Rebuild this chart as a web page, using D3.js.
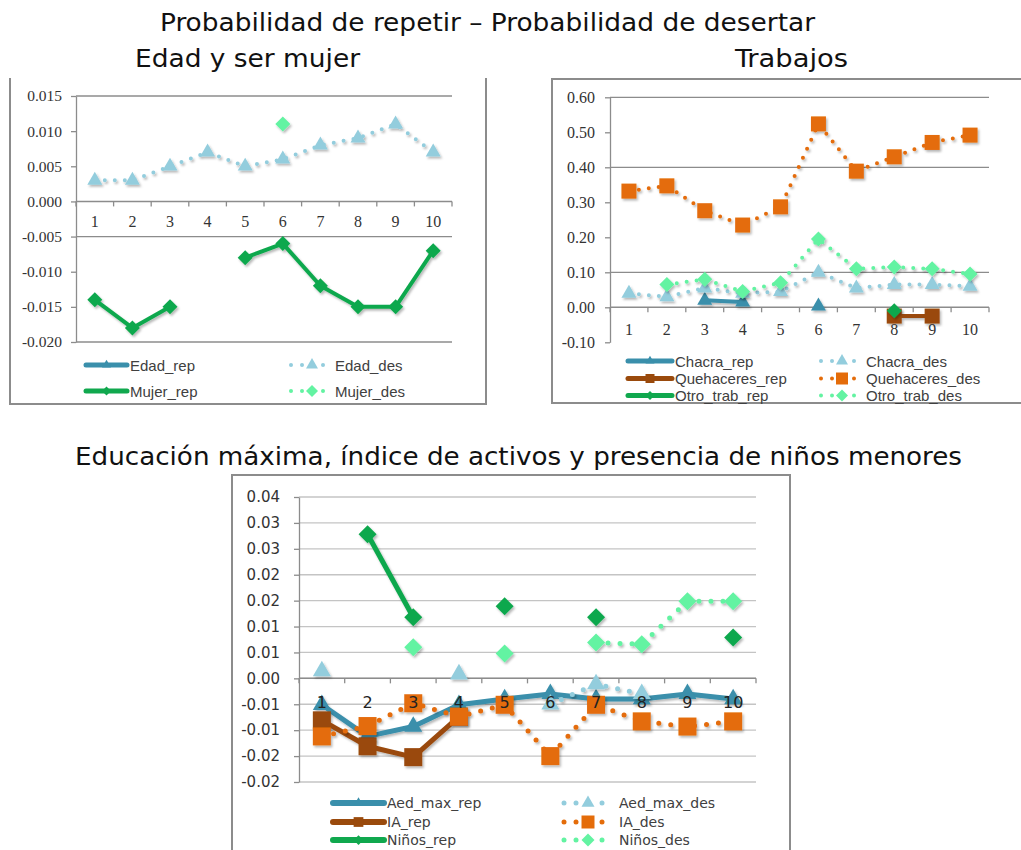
<!DOCTYPE html>
<html>
<head>
<meta charset="utf-8">
<script src="https://cdn.jsdelivr.net/npm/d3@7"></script>
<style>
  html, body { margin: 0; padding: 0; background: #fff; }
  svg { display: block; }
</style>
</head>
<body>
<svg id="chart" width="1021" height="850"></svg>
<script>
const categories = [1, 2, 3, 4, 5, 6, 7, 8, 9, 10];

// Edad y ser mujer
const edadRep = [null, null, null, null, null, null, null, null, null, null];
const edadDes = [0.003, 0.003, 0.005, 0.007, 0.005, 0.006, 0.008, 0.009, 0.011, 0.007];
const mujerRep = [-0.014, -0.018, -0.015, null, -0.008, -0.006, -0.012, -0.015, -0.015, -0.007];
const mujerDes = [null, null, null, null, null, 0.011, null, null, null, null];
const edadTicks = [0.015, 0.01, 0.005, 0, -0.005, -0.01, -0.015, -0.02];
const edadTickLabels = ["0.015", "0.010", "0.005", "0.000", "-0.005", "-0.010", "-0.015", "-0.020"];
const edadGrid = [0.015, -0.005, -0.02];

// Trabajos
const chacraRep = [null, null, 0.02, 0.015, null, 0.003, null, null, null, null];
const chacraDes = [0.04, 0.03, 0.055, 0.04, 0.045, 0.1, 0.055, 0.065, 0.065, 0.06];
const quehRep = [null, null, null, null, null, null, null, -0.025, -0.025, null];
const quehDes = [0.332, 0.347, 0.276, 0.235, 0.287, 0.524, 0.389, 0.43, 0.471, 0.492];
const otroRep = [null, null, null, null, null, null, null, -0.01, null, null];
const otroDes = [null, 0.065, 0.08, 0.045, 0.07, 0.195, 0.11, 0.115, 0.11, 0.095];
const trabTicks = [0.6, 0.5, 0.4, 0.3, 0.2, 0.1, 0, -0.1];
const trabTickLabels = ["0.60", "0.50", "0.40", "0.30", "0.20", "0.10", "0.00", "-0.10"];
const trabGrid = [0.6, 0.4, 0.1];

// Educación máxima, índice de activos, niños menores
const aedRep = [-0.0051, -0.0112, -0.0093, -0.0051, -0.004, -0.003, -0.004, -0.004, -0.003, -0.004];
const aedDes = [0.0014, null, null, 0.0008, null, -0.005, -0.0011, -0.003, null, null];
const iaRep = [-0.0081, -0.0131, -0.0152, -0.0074, null, null, null, null, null, null];
const iaDes = [-0.0112, -0.0092, -0.0048, -0.0074, -0.0051, -0.015, -0.0051, -0.0083, -0.0093, -0.0083];
const ninosRep = [null, 0.0278, 0.0118, null, 0.0139, null, 0.0118, null, null, 0.0079];
const ninosDes = [null, null, 0.006, null, 0.0048, null, 0.0069, 0.0066, 0.0149, 0.0149];
const eduTicks = [0.035, 0.03, 0.025, 0.02, 0.015, 0.01, 0.005, 0, -0.005, -0.01, -0.015, -0.02];
const eduTickLabels = ["0.04", "0.03", "0.03", "0.02", "0.02", "0.01", "0.01", "0.00", "-0.01", "-0.01", "-0.02", "-0.02"];
const eduGrid = eduTicks;

const colors = {
  teal: "#3a8fab",
  lightBlue: "#93cddd",
  green: "#10a84e",
  lightGreen: "#63f3a2",
  brown: "#9a4a0c",
  orange: "#e46c0a",
};

const svg = d3.select("#chart");

const defs = svg.append("defs");
defs.append("filter").attr("id", "shadow")
  .attr("x", "-20%").attr("y", "-20%").attr("width", "140%").attr("height", "140%")
  .append("feDropShadow")
  .attr("dx", 1.5).attr("dy", 2).attr("stdDeviation", 1.2)
  .attr("flood-color", "#000").attr("flood-opacity", 0.28);

const markerPath = (shape, size) => {
  if (shape === "triangle") return d3.symbol(d3.symbolTriangle, size * size * 0.433)();
  if (shape === "square") return d3.symbol(d3.symbolSquare, size * size)();
  const h = size / 2;
  return `M0,${-h}L${h},0L0,${h}L${-h},0Z`;
};

// titles
const titleFont = "'DejaVu Sans Condensed', 'DejaVu Sans', sans-serif";
[
  { text: "Probabilidad de repetir – Probabilidad de desertar", x: 160, y: 31, w: 655 },
  { text: "Edad y ser mujer", x: 135, y: 67, w: 225 },
  { text: "Trabajos", x: 735, y: 67, w: 113 },
  { text: "Educación máxima, índice de activos y presencia de niños menores", x: 75, y: 465, w: 887 },
].forEach((t) =>
  svg.append("text")
    .text(t.text)
    .attr("x", t.x)
    .attr("y", t.y)
    .attr("textLength", t.w)
    .attr("lengthAdjust", "spacingAndGlyphs")
    .attr("font-family", titleFont)
    .attr("font-size", 25)
    .attr("fill", "#111")
);

const makeChart = (cfg) => {
  const g = svg.append("g");

  // frame
  g.append("path")
    .attr("d", cfg.frame)
    .attr("fill", "none")
    .attr("stroke", "#8c8c8c")
    .attr("stroke-width", 2);

  const x = d3.scaleBand().domain(categories).range([cfg.left, cfg.right]);
  const y = d3.scaleLinear().domain(cfg.domain).range([cfg.bottom, cfg.top]);
  const cx = (i) => x(categories[i]) + x.bandwidth() / 2;

  // gridlines
  g.append("g")
    .selectAll("line")
    .data(cfg.grid)
    .join("line")
    .attr("x1", cfg.left)
    .attr("x2", cfg.right)
    .attr("y1", (d) => y(d))
    .attr("y2", (d) => y(d))
    .attr("stroke", cfg.gridColor)
    .attr("stroke-width", 1.3);

  // y axis
  const yAxis = d3.axisLeft(y)
    .tickValues(cfg.ticks)
    .tickFormat((d, i) => cfg.tickLabels[i])
    .tickSize(5)
    .tickSizeOuter(0)
    .tickPadding(cfg.tickPad);
  const ya = g.append("g").attr("transform", `translate(${cfg.left},0)`).call(yAxis);
  ya.attr("font-family", cfg.tickFont).attr("font-size", cfg.tickSize);
  ya.selectAll("text").attr("fill", "#333");
  ya.selectAll("line, path").attr("stroke", "#8c8c8c").attr("stroke-width", 1.3);

  // x axis at zero
  const y0 = y(0);
  g.append("line")
    .attr("x1", cfg.left).attr("x2", cfg.right)
    .attr("y1", y0).attr("y2", y0)
    .attr("stroke", "#8c8c8c").attr("stroke-width", 1.5);
  g.append("g")
    .selectAll("line")
    .data([...categories.map((c) => x(c)), cfg.right])
    .join("line")
    .attr("x1", (d) => d).attr("x2", (d) => d)
    .attr("y1", y0).attr("y2", y0 + 5)
    .attr("stroke", "#8c8c8c").attr("stroke-width", 1.3);

  // series
  cfg.series.forEach((s) => {
    const sg = g.append("g").attr("filter", "url(#shadow)");
    const pts = s.values.map((v, i) => ({ i, v }));
    const line = d3.line()
      .defined((d) => d.v !== null)
      .x((d) => cx(d.i))
      .y((d) => y(d.v));
    sg.append("path")
      .attr("d", line(pts))
      .attr("fill", "none")
      .attr("stroke", s.color)
      .attr("stroke-width", cfg.lineWidth)
      .attr("stroke-linecap", "round")
      .attr("stroke-linejoin", "round")
      .attr("stroke-dasharray", s.dotted ? `0 ${cfg.dotGap}` : null);
    sg.selectAll("path.m")
      .data(pts.filter((d) => d.v !== null))
      .join("path")
      .attr("class", "m")
      .attr("d", markerPath(s.shape, cfg.markerSize))
      .attr("transform", (d) => `translate(${cx(d.i)},${y(d.v)})`)
      .attr("fill", s.color);
  });

  // category labels
  g.append("g")
    .selectAll("text")
    .data(categories)
    .join("text")
    .text((d) => d)
    .attr("x", (d) => x(d) + x.bandwidth() / 2)
    .attr("y", y0 + cfg.labelOffset)
    .attr("text-anchor", "middle")
    .attr("dominant-baseline", "central")
    .attr("font-family", cfg.tickFont)
    .attr("font-size", cfg.labelSize)
    .attr("fill", cfg.labelColor);

  // legend
  const L = cfg.legend;
  cfg.series.forEach((s, k) => {
    const ry = L.rows[Math.floor(k / 2)];
    const lg = g.append("g");
    if (k % 2 === 0) {
      lg.append("line")
        .attr("x1", L.lineX[0]).attr("x2", L.lineX[1])
        .attr("y1", ry).attr("y2", ry)
        .attr("stroke", s.color).attr("stroke-width", cfg.lineWidth + 1)
        .attr("stroke-linecap", "round");
      lg.append("path")
        .attr("d", markerPath(s.shape, L.markerSize * 0.75))
        .attr("transform", `translate(${(L.lineX[0] + L.lineX[1]) / 2},${ry})`)
        .attr("fill", s.color);
      lg.append("text").text(s.name)
        .attr("x", L.textX[0]).attr("y", ry);
    } else {
      L.dotX.forEach((dx) =>
        lg.append("circle")
          .attr("cx", dx).attr("cy", ry).attr("r", cfg.lineWidth / 2)
          .attr("fill", s.color)
      );
      lg.append("path")
        .attr("d", markerPath(s.shape, L.markerSize))
        .attr("transform", `translate(${L.markX},${ry})`)
        .attr("fill", s.color);
      lg.append("text").text(s.name)
        .attr("x", L.textX[1]).attr("y", ry);
    }
    lg.selectAll("text")
      .attr("dominant-baseline", "central")
      .attr("font-family", L.font)
      .attr("font-size", L.fontSize)
      .attr("fill", "#404040");
  });
};

makeChart({
  frame: "M10,78V404H486V78",
  left: 76, right: 452, top: 96, bottom: 342,
  domain: [-0.02, 0.015],
  ticks: edadTicks, tickLabels: edadTickLabels, grid: edadGrid,
  gridColor: "#8c8c8c",
  tickFont: "'Liberation Serif', serif", tickSize: 15.5, tickPad: 9,
  labelOffset: 20, labelSize: 16, labelColor: "#333",
  lineWidth: 4, dotGap: 10, markerSize: 15,
  series: [
    { name: "Edad_rep", values: edadRep, color: colors.teal, shape: "triangle", dotted: false },
    { name: "Edad_des", values: edadDes, color: colors.lightBlue, shape: "triangle", dotted: true },
    { name: "Mujer_rep", values: mujerRep, color: colors.green, shape: "diamond", dotted: false },
    { name: "Mujer_des", values: mujerDes, color: colors.lightGreen, shape: "diamond", dotted: true },
  ],
  legend: {
    rows: [365, 391], lineX: [86, 127], textX: [130, 335],
    dotX: [291, 302, 323], markX: 312, markerSize: 12,
    font: "'Liberation Sans Narrow', 'Liberation Sans', sans-serif", fontSize: 15,
  },
});

makeChart({
  frame: "M1030,79H552V403H1030",
  left: 610, right: 989, top: 97.3, bottom: 342.3,
  domain: [-0.1, 0.6],
  ticks: trabTicks, tickLabels: trabTickLabels, grid: trabGrid,
  gridColor: "#8c8c8c",
  tickFont: "'Liberation Serif', serif", tickSize: 16, tickPad: 10,
  labelOffset: 22, labelSize: 16, labelColor: "#333",
  lineWidth: 4, dotGap: 10, markerSize: 15,
  series: [
    { name: "Chacra_rep", values: chacraRep, color: colors.teal, shape: "triangle", dotted: false },
    { name: "Chacra_des", values: chacraDes, color: colors.lightBlue, shape: "triangle", dotted: true },
    { name: "Quehaceres_rep", values: quehRep, color: colors.brown, shape: "square", dotted: false },
    { name: "Quehaceres_des", values: quehDes, color: colors.orange, shape: "square", dotted: true },
    { name: "Otro_trab_rep", values: otroRep, color: colors.green, shape: "diamond", dotted: false },
    { name: "Otro_trab_des", values: otroDes, color: colors.lightGreen, shape: "diamond", dotted: true },
  ],
  legend: {
    rows: [361, 378.5, 395.5], lineX: [628, 672], textX: [675, 866],
    dotX: [821, 832, 854], markX: 842, markerSize: 12,
    font: "'Liberation Sans Narrow', 'Liberation Sans', sans-serif", fontSize: 15,
  },
});

makeChart({
  frame: "M232,870V475H790V870",
  left: 299, right: 756, top: 497, bottom: 782,
  domain: [-0.02, 0.035],
  ticks: eduTicks, tickLabels: eduTickLabels, grid: eduGrid,
  gridColor: "#c4c4c4",
  tickFont: "'DejaVu Sans', sans-serif", tickSize: 15, tickPad: 14,
  labelOffset: 24, labelSize: 16, labelColor: "#222",
  lineWidth: 5, dotGap: 12, markerSize: 18,
  series: [
    { name: "Aed_max_rep", values: aedRep, color: colors.teal, shape: "triangle", dotted: false },
    { name: "Aed_max_des", values: aedDes, color: colors.lightBlue, shape: "triangle", dotted: true },
    { name: "IA_rep", values: iaRep, color: colors.brown, shape: "square", dotted: false },
    { name: "IA_des", values: iaDes, color: colors.orange, shape: "square", dotted: true },
    { name: "Niños_rep", values: ninosRep, color: colors.green, shape: "diamond", dotted: false },
    { name: "Niños_des", values: ninosDes, color: colors.lightGreen, shape: "diamond", dotted: true },
  ],
  legend: {
    rows: [803, 822, 840], lineX: [333, 384], textX: [387, 619],
    dotX: [564, 576, 602], markX: 588, markerSize: 13,
    font: "'DejaVu Sans', sans-serif", fontSize: 14,
  },
});
</script>
</body>
</html>
